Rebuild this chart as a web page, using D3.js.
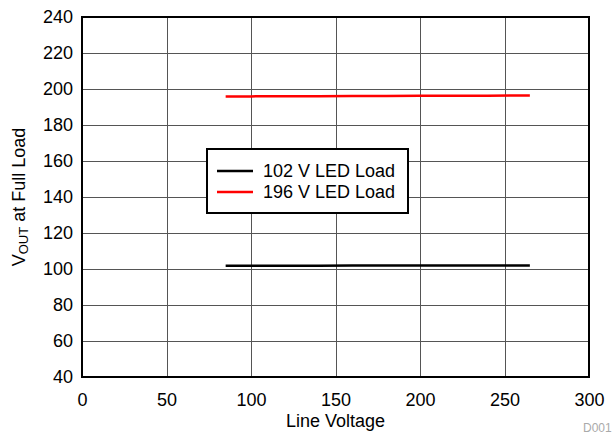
<!DOCTYPE html>
<html>
<head>
<meta charset="utf-8">
<script src="https://cdn.jsdelivr.net/npm/d3@7"></script>
<style>
  html, body { margin: 0; padding: 0; background: #fff; }
  svg { display: block; font-family: "Liberation Sans", Arial, sans-serif; }
</style>
</head>
<body>
<svg id="chart" width="616" height="434"></svg>
<script>
// Line voltage sweep (V)
const lineVoltage = [85, 100, 120, 140, 160, 180, 200, 220, 240, 265];
// Output voltage at full load (V) for each LED string
const load102 = [101.8, 101.8, 101.8, 101.8, 101.9, 101.9, 101.9, 101.9, 102.0, 102.0];
const load196 = [195.9, 195.9, 196.0, 196.0, 196.1, 196.1, 196.2, 196.2, 196.3, 196.4];

const seriesNames = ["102 V LED Load", "196 V LED Load"];
const seriesColors = ["#000000", "#ff0000"];

const xTicks = [0, 50, 100, 150, 200, 250, 300];
const yTicks = [40, 60, 80, 100, 120, 140, 160, 180, 200, 220, 240];

const FS = 18;

const svg = d3.select("#chart");
const margin = { left: 82, top: 17, right: 27, bottom: 57 };
const W = 616, H = 434;
const x = d3.scaleLinear().domain([0, 300]).range([margin.left, W - margin.right]);
const y = d3.scaleLinear().domain([40, 240]).range([H - margin.bottom, margin.top]);

// grid
const grid = svg.append("g").attr("stroke", "#555").attr("stroke-width", 1);
grid.selectAll("line.v").data(xTicks).join("line")
  .attr("x1", d => Math.round(x(d)) + 0.5).attr("x2", d => Math.round(x(d)) + 0.5)
  .attr("y1", y(240)).attr("y2", y(40));
grid.selectAll("line.h").data(yTicks).join("line")
  .attr("y1", d => Math.round(y(d)) + 0.5).attr("y2", d => Math.round(y(d)) + 0.5)
  .attr("x1", x(0)).attr("x2", x(300));

// axes (labels only; frame drawn separately)
const xAxis = svg.append("g")
  .attr("transform", `translate(0,${y(40)})`)
  .call(d3.axisBottom(x).tickValues(xTicks).tickSize(0).tickPadding(16));
const yAxis = svg.append("g")
  .attr("transform", `translate(${x(0)},0)`)
  .call(d3.axisLeft(y).tickValues(yTicks).tickSize(0).tickPadding(9));
[xAxis, yAxis].forEach(a => {
  a.select(".domain").remove();
  a.selectAll("text").attr("font-size", FS).attr("fill", "#000")
    .attr("font-family", "Liberation Sans, Arial, sans-serif");
});

// series lines
const line = d3.line().x(d => x(d[0])).y(d => y(d[1]));
[load102, load196].forEach((vals, i) => {
  svg.append("path")
    .datum(lineVoltage.map((v, j) => [v, vals[j]]))
    .attr("d", line)
    .attr("fill", "none")
    .attr("stroke", seriesColors[i])
    .attr("stroke-width", 2.5);
});

// plot frame
svg.append("rect")
  .attr("x", x(0)).attr("y", y(240))
  .attr("width", x(300) - x(0)).attr("height", y(40) - y(240))
  .attr("fill", "none").attr("stroke", "#000").attr("stroke-width", 2);

// legend
const lg = svg.append("g").attr("transform", "translate(207,149)");
lg.append("rect").attr("width", 201).attr("height", 64)
  .attr("fill", "#fff").attr("stroke", "#000").attr("stroke-width", 2);
seriesNames.forEach((name, i) => {
  const cy = 22 + i * 21;
  lg.append("line").attr("x1", 10).attr("x2", 46).attr("y1", cy).attr("y2", cy)
    .attr("stroke", seriesColors[i]).attr("stroke-width", 2.5);
  lg.append("text").attr("x", 56).attr("y", cy).attr("dy", "0.35em")
    .attr("font-size", FS).text(name);
});

// axis titles
svg.append("text").attr("x", (x(0) + x(300)) / 2).attr("y", 427)
  .attr("text-anchor", "middle").attr("font-size", FS).text("Line Voltage");

const yt = svg.append("text")
  .attr("transform", `translate(25,${(y(40) + y(240)) / 2}) rotate(-90)`)
  .attr("text-anchor", "middle").attr("font-size", FS);
yt.append("tspan").text("V");
yt.append("tspan").attr("font-size", 13).attr("dy", 3).text("OUT");
yt.append("tspan").attr("dy", -3).text(" at Full Load");

svg.append("text").attr("x", 583).attr("y", 432)
  .attr("font-size", 12).attr("fill", "#aaa").text("D001");
</script>
</body>
</html>
